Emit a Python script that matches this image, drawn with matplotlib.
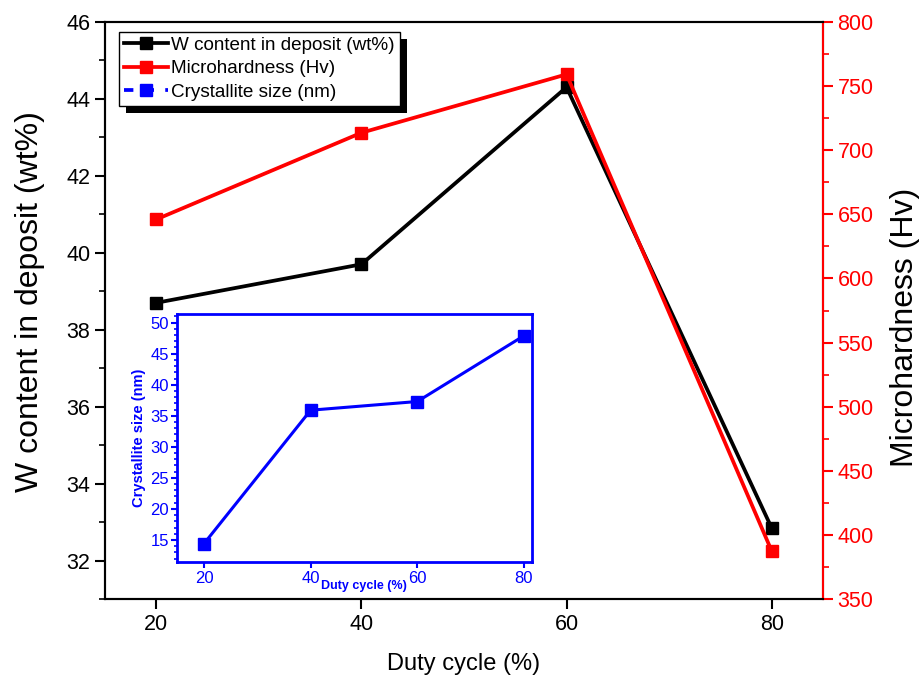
import matplotlib

matplotlib.use("Agg")
import matplotlib.pyplot as plt
from matplotlib import font_manager
from matplotlib.lines import Line2D
from matplotlib.patches import Rectangle
from matplotlib.ticker import MultipleLocator

DUTY_CYCLE = [20, 40, 60, 80]
W_CONTENT = [38.7, 39.7, 44.3, 32.85]
MICROHARDNESS = [646, 713.5, 759, 387.6]
CRYSTALLITE = [14.4, 35.9, 37.3, 47.9]

W_TICKS = [32, 34, 36, 38, 40, 42, 44, 46]
HV_TICKS = [350, 400, 450, 500, 550, 600, 650, 700, 750, 800]
SIZE_TICKS = [15, 20, 25, 30, 35, 40, 45, 50]

BLACK = "#000000"
RED = "#ff0000"
BLUE = "#0000ff"

# horizontal text is set in a condensed face when one is available
_names = {f.name for f in font_manager.fontManager.ttflist}
NARROW = "Liberation Sans Narrow" in _names
HFONT = ["Liberation Sans Narrow", "Liberation Sans", "DejaVu Sans"] if NARROW else ["Liberation Sans", "DejaVu Sans"]
VFONT = ["Liberation Sans", "DejaVu Sans"]
K = 1.2 if NARROW else 1.0


def setup_style() -> None:
    plt.rcParams.update(
        {
            "font.family": HFONT,
            "font.size": 15,
            "axes.linewidth": 1.5,
            "savefig.facecolor": "white",
        }
    )


def draw_main(fig: plt.Figure):
    ax = fig.add_axes([0.1139, 0.12, 0.7787, 0.8481])
    ax.plot(DUTY_CYCLE, W_CONTENT, color=BLACK, lw=2.7, marker="s", ms=8.5, zorder=3)
    ax.set_xlim(15, 85)
    ax.set_ylim(31, 46)
    ax.set_xticks(DUTY_CYCLE)
    ax.set_yticks(W_TICKS)
    ax.yaxis.set_minor_locator(MultipleLocator(1))
    ax.tick_params(axis="both", which="major", direction="out", length=7, width=1.5, labelsize=15.5 * K)
    ax.tick_params(axis="y", which="minor", direction="out", length=4, width=1.2)
    ax.set_xlabel("Duty cycle (%)", fontsize=17 * K, labelpad=13)
    ax.set_ylabel("W content in deposit (wt%)", fontsize=23, family=VFONT)
    ax.yaxis.set_label_coords(-0.083, 0.515)

    ax2 = ax.twinx()
    ax2.plot(DUTY_CYCLE, MICROHARDNESS, color=RED, lw=2.7, marker="s", ms=8.5, zorder=3)
    ax2.set_ylim(350, 800)
    ax2.set_yticks(HV_TICKS)
    ax2.yaxis.set_minor_locator(MultipleLocator(25))
    ax2.spines["right"].set_color(RED)
    ax2.tick_params(axis="y", which="major", colors=RED, direction="out", length=7, width=1.5, labelsize=15.5 * K)
    ax2.tick_params(axis="y", which="minor", colors=RED, direction="out", length=4, width=1.2)
    ax2.set_ylabel("Microhardness (Hv)", fontsize=23, family=VFONT)
    ax2.yaxis.set_label_coords(1.093, 0.47)
    return ax, ax2


def draw_inset(fig: plt.Figure) -> None:
    ins = fig.add_axes([0.1923, 0.1743, 0.3847, 0.3642])
    ins.plot(DUTY_CYCLE, CRYSTALLITE, color=BLUE, lw=2.2, marker="s", ms=8, zorder=3)
    ins.set_xlim(15, 81.5)
    ins.set_ylim(11.4, 51.35)
    ins.set_xticks(DUTY_CYCLE)
    ins.set_yticks(SIZE_TICKS)
    ins.yaxis.set_minor_locator(MultipleLocator(1))
    for spine in ins.spines.values():
        spine.set_color(BLUE)
        spine.set_linewidth(2.0)
    ins.tick_params(axis="both", which="major", colors=BLUE, direction="out", length=4, width=1.5, labelsize=12 * K, pad=2)
    ins.tick_params(axis="y", which="minor", colors=BLUE, direction="out", length=2.5, width=1.2)
    ins.set_xlabel("Duty cycle (%)", fontsize=9 * K, fontweight="bold", color=BLUE)
    ins.xaxis.set_label_coords(0.526, -0.07)
    ins.set_ylabel("Crystallite size (nm)", fontsize=10.5, family=VFONT, fontweight="bold", color=BLUE, labelpad=3)


def draw_legend(fig: plt.Figure, ax: plt.Axes) -> None:
    handles = [
        Line2D([], [], color=BLACK, lw=2.7, marker="s", ms=8.5),
        Line2D([], [], color=RED, lw=2.7, marker="s", ms=8.5),
        Line2D([], [], color=BLUE, lw=2.7, ls=(0, (2.5, 3)), marker="s", ms=8.5),
    ]
    labels = ["W content in deposit (wt%)", "Microhardness (Hv)", "Crystallite size (nm)"]
    leg = ax.legend(
        handles,
        labels,
        loc="upper left",
        bbox_to_anchor=(119 / 922, 1 - 31.7 / 681),
        bbox_transform=fig.transFigure,
        fontsize=13.6 * K,
        frameon=True,
        fancybox=False,
        edgecolor=BLACK,
        framealpha=1,
        borderpad=0.27,
        borderaxespad=0,
        labelspacing=0.33,
        handlelength=2.3 / K,
        handletextpad=0.2,
    )
    leg.get_frame().set_linewidth(1.0)
    leg.set_zorder(10)

    # solid black drop shadow behind the legend box
    fig.canvas.draw()
    bb = leg.get_window_extent().transformed(fig.transFigure.inverted())
    dx, dy = 7 / 922, 7 / 681
    ax.add_patch(
        Rectangle(
            (bb.x0 + dx, bb.y0 - dy),
            bb.width,
            bb.height,
            transform=fig.transFigure,
            facecolor=BLACK,
            edgecolor="none",
            clip_on=False,
            zorder=9,
        )
    )


def main() -> None:
    setup_style()
    fig = plt.figure(figsize=(9.22, 6.81), dpi=100)
    ax, ax2 = draw_main(fig)
    draw_inset(fig)
    draw_legend(fig, ax2)
    fig.savefig("out.png", dpi=100)
    plt.close(fig)


if __name__ == "__main__":
    main()
